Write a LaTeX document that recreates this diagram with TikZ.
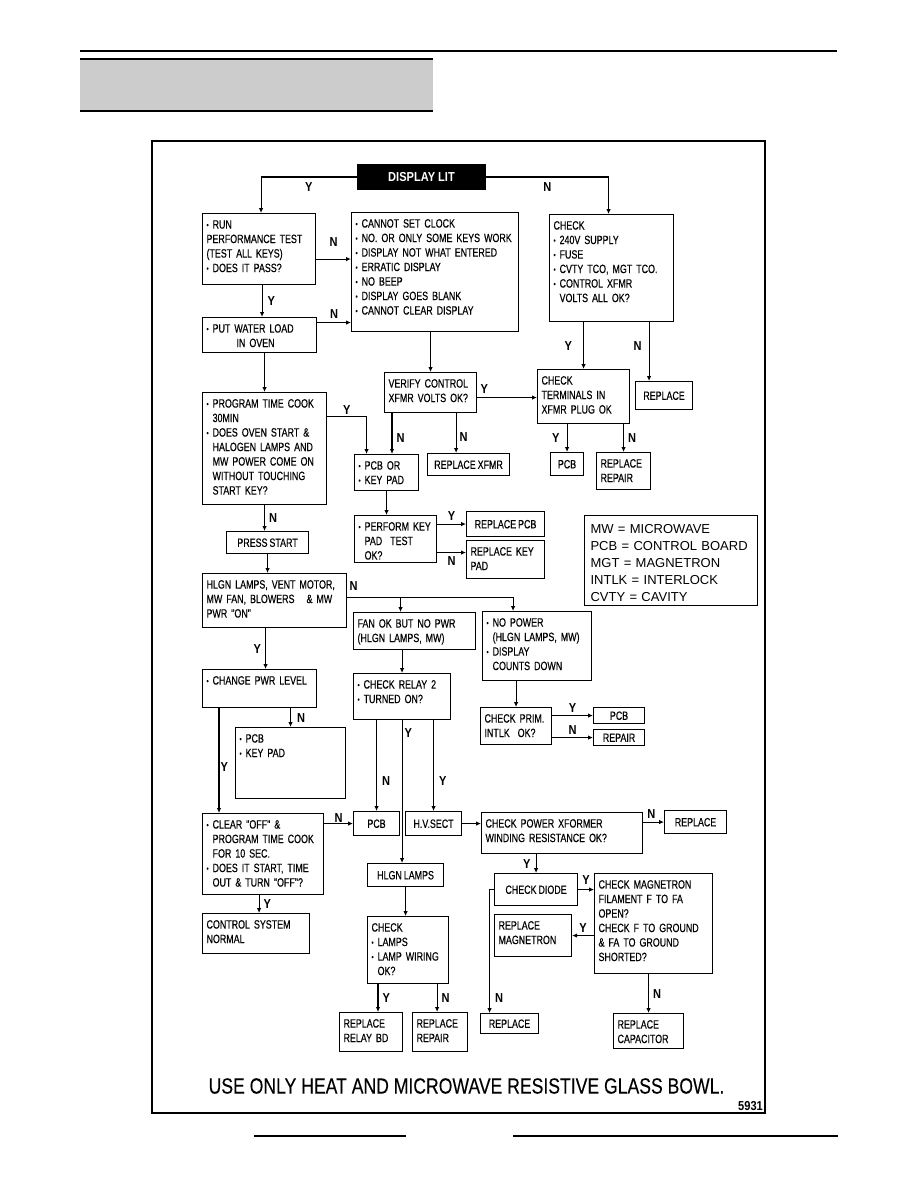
\documentclass[tikz,border=0pt]{standalone}
\usepackage{fontspec}
\usepackage{tikz}
\usetikzlibrary{arrows.meta,calc,positioning}
\newfontfamily\condfam{Liberation Sans}[FakeStretch=0.74, FakeBold=0.4, WordSpace=0.8]
\newfontfamily\labfam{Liberation Sans}[FakeStretch=0.85]
\newfontfamily\notefam{Liberation Sans}[FakeStretch=0.8, FakeBold=0.15]
\newfontfamily\plainfam{Liberation Sans}
\newcommand\boxfont{\condfam\fontsize{12}{14.5}\selectfont}
\newcommand\labfont{\labfam\bfseries\fontsize{13}{14}\selectfont}
\newcommand\litfont{\labfam\bfseries\fontsize{13}{15}\selectfont}
\newcommand\legfont{\plainfam\fontsize{13}{17}\selectfont}
\newcommand\notefont{\notefam\fontsize{22}{26}\selectfont}
\newcommand\bul{\raisebox{0.8pt}{\fontsize{8}{8}\selectfont •}\ }
\newcommand\ind{\hphantom{\bul}}
\definecolor{headgray}{gray}{0.8}

\begin{document}
\begin{tikzpicture}[x=1pt, y=-1pt,
    box/.code 2 args={%
      \pgfmathsetlengthmacro\boxtw{#1pt-8pt}%
      \pgfmathsetlengthmacro\boxtd{#2pt-15pt}%
      \tikzset{draw, line width=1.1pt, anchor=north west, align=left,
        font=\boxfont, inner xsep=4pt, inner ysep=0pt, minimum width=#1pt,
        text width=\boxtw, text height=15pt, text depth=\boxtd}},
    sbox/.style 2 args={draw, line width=1.1pt, anchor=north west, align=center,
      font=\boxfont, inner sep=0pt, minimum width=#1pt, minimum height=#2pt,
      text height=8.6pt, text depth=0pt},
    arr/.style={-{Latex[length=5pt,width=4.5pt]}, line width=1.1pt},
    lab/.style={font=\labfont, inner sep=1pt}]
        \useasboundingbox (0,0) rectangle (918,1188);
        % Page header and footer rules
        \draw[line width=2.5pt] (80,51) -- (837,51);
        \fill[headgray] (80,58) rectangle (433,111);
        \draw[line width=2pt] (80,59) -- (433,59);
        \draw[line width=1.2pt] (80,111) -- (433,111);
        \draw[line width=2.5pt] (254,1136) -- (406,1136);
        \draw[line width=2.5pt] (513,1136) -- (838,1136);
        % Figure frame
        \draw[line width=1.1pt] (152,141) rectangle (765,1113);
        % Start
        \node[fill=black, text=white, font=\litfont, minimum width=129pt, minimum height=26pt, inner sep=0pt] (lit) at (421.5,177) {DISPLAY LIT};
        % Display lit branch
        \node[box={113}{71}] (run) at (202,213) {\bul RUN\\ PERFORMANCE TEST\\ (TEST ALL KEYS)\\ \bul DOES IT PASS?};
        \node[box={167}{119}] (cannot) at (351,212) {\bul CANNOT SET CLOCK\\ \bul NO. OR ONLY SOME KEYS WORK\\ \bul DISPLAY NOT WHAT ENTERED\\ \bul ERRATIC DISPLAY\\ \bul NO BEEP\\ \bul DISPLAY GOES BLANK\\ \bul CANNOT CLEAR DISPLAY};
        \node[box={114}{35}] (put) at (202,317) {\bul PUT WATER LOAD\\ \hspace*{30pt}IN OVEN};
        \node[box={92}{40}] (verify) at (384,372) {VERIFY CONTROL\\ XFMR VOLTS OK?};
        \node[box={124}{112}] (prog) at (202,392) {\bul PROGRAM TIME COOK\\ \ind 30MIN\\ \bul DOES OVEN START \&\\ \ind HALOGEN LAMPS AND\\ \ind MW POWER COME ON\\ \ind WITHOUT TOUCHING\\ \ind START KEY?};
        \node[box={64}{36}] (pcbor) at (354,454) {\bul PCB OR\\ \bul KEY PAD};
        \node[sbox={82}{22}] (repx) at (427,453) {REPLACE XFMR};
        \node[box={82}{47}] (perf) at (354,515) {\bul PERFORM KEY\\ \ind PAD\ \ TEST\\ \ind OK?};
        \node[sbox={78}{25}] (reppcb) at (466,511) {REPLACE PCB};
        \node[box={78}{38}] (repkey) at (466,540) {REPLACE KEY\\ PAD};
        % Display not lit branch
        \node[box={124}{107}] (chk) at (549,214) {CHECK\\ \bul 240V SUPPLY\\ \bul FUSE\\ \bul CVTY TCO, MGT TCO.\\ \bul CONTROL XFMR\\ \ind VOLTS ALL OK?};
        \node[box={92}{54}] (term) at (537,369) {CHECK\\ TERMINALS IN\\ XFMR PLUG OK};
        \node[sbox={57}{28}] (rep1) at (635,381) {REPLACE};
        \node[sbox={33}{23}] (pcb1) at (550,452) {PCB};
        \node[box={54}{37}] (reprep1) at (596,452) {REPLACE\\ REPAIR};
        % Legend
        \node[draw, line width=1.1pt, anchor=north west, align=left, font=\legfont, inner xsep=6pt, inner ysep=0pt, text width=161pt, text height=18pt, text depth=72pt] (legend) at (584,515) {MW = MICROWAVE\\ PCB = CONTROL BOARD\\ MGT = MAGNETRON\\ INTLK = INTERLOCK\\ CVTY = CAVITY};
        % Start key branch
        \node[sbox={82}{22}] (press) at (226,531) {PRESS START};
        \node[box={144}{54}] (hlgn) at (202,573) {HLGN LAMPS, VENT MOTOR,\\ MW FAN, BLOWERS\ \ \ \& MW\\ PWR "ON"};
        \node[box={122}{37}] (fanok) at (353,612) {FAN OK BUT NO PWR\\ (HLGN LAMPS, MW)};
        \node[box={109}{69}] (nopow) at (482,611) {\bul NO POWER\\ \ind (HLGN LAMPS, MW)\\ \bul DISPLAY\\ \ind COUNTS DOWN};
        \node[box={71}{37}] (prim) at (480,707) {CHECK PRIM.\\ INTLK\ \ OK?};
        \node[sbox={51}{16}] (pcb2) at (593,707) {PCB};
        \node[sbox={51}{16}] (repair) at (593,729) {REPAIR};
        \node[box={97}{46}] (relay) at (353,673) {\bul CHECK RELAY 2\\ \bul TURNED ON?};
        \node[box={114}{38}] (chg) at (202,669) {\bul CHANGE PWR LEVEL};
        \node[box={110}{71}] (pkp) at (235,727) {\bul PCB\\ \bul KEY PAD};
        \node[box={121}{81}] (clear) at (202,813) {\bul CLEAR "OFF" \&\\ \ind PROGRAM TIME COOK\\ \ind FOR 10 SEC.\\ \bul DOES IT START, TIME\\ \ind OUT \& TURN "OFF"?};
        \node[box={107}{40}] (ctrl) at (202,913) {CONTROL SYSTEM\\ NORMAL};
        \node[sbox={46}{24}] (pcb3) at (353,811) {PCB};
        \node[sbox={56}{24}] (hvs) at (405,811) {H.V.SECT};
        \node[sbox={76}{23}] (hlamp) at (367,863) {HLGN LAMPS};
        \node[box={81}{67}] (lamps) at (367,916) {CHECK\\ \bul LAMPS\\ \bul LAMP WIRING\\ \ind OK?};
        \node[box={63}{39}] (relbd) at (339,1012) {REPLACE\\ RELAY BD};
        \node[box={55}{39}] (reprep2) at (412,1012) {REPLACE\\ REPAIR};
        % High voltage section
        \node[box={161}{41}] (pwr) at (481,812) {CHECK POWER XFORMER\\ WINDING RESISTANCE OK?};
        \node[sbox={62}{23}] (rep3) at (664,810) {REPLACE};
        \node[sbox={83}{32}] (diode) at (494,873) {CHECK DIODE};
        \node[box={118}{100}] (mag) at (594,873) {CHECK MAGNETRON\\ FILAMENT F TO FA\\ OPEN?\\ CHECK F TO GROUND\\ \& FA TO GROUND\\ SHORTED?};
        \node[box={77}{42}] (repmag) at (494,914) {REPLACE\\ MAGNETRON};
        \node[sbox={58}{20}] (rep4) at (480,1013) {REPLACE};
        \node[box={70}{35}] (repcap) at (613,1013) {REPLACE\\ CAPACITOR};
        % Note and figure number
        \node[font=\notefont, inner sep=0pt] (note) at (466.5,1086) {USE ONLY HEAT AND MICROWAVE RESISTIVE GLASS BOWL.};
        \node[font=\labfont, anchor=east, inner sep=0pt] (fignum) at (763,1106) {5931};
        % Connectors, display lit
        \draw[arr] (lit.west) -| ([xshift=2pt]run.north) node[lab, pos=0.25, below=4pt] (yLit) {Y};
        \draw[arr] (lit.east) -| ([xshift=-3pt]chk.north) node[lab, pos=0.25, below=4pt] (nLit) {N};
        \draw[arr] ([yshift=-10pt]run.east) -- ([yshift=-10pt]run.east -| cannot.west) node[lab, midway, above=11pt] (nRun) {N};
        \draw[arr] ([xshift=3pt]run.south) -- ([xshift=3pt]run.south |- put.north) node[lab, midway, right=4pt] (yRun) {Y};
        \draw[arr] ([yshift=12.5pt]put.east) -- ([yshift=12.5pt]put.east -| cannot.west) node[lab, midway, above=3pt] (nPut) {N};
        \draw[arr] (put.south -| prog.north) -- (prog.north);
        \draw[arr] (cannot.south -| verify.north) -- (verify.north);
        \draw[arr] ([yshift=-5pt]verify.east) -- ([yshift=-5pt]verify.east -| term.west) node[lab, pos=0.12, above=3pt] (yVer) {Y};
        \draw[arr] ([xshift=8pt]verify.south west) -- ([xshift=8pt]verify.south west |- pcbor.north) node[lab, pos=0.6, right=3pt] (nVer1) {N};
        \draw[arr] ([xshift=-21pt]verify.south east) -- ([xshift=-21pt]verify.south east |- repx.north) node[lab, pos=0.6, right=2pt] (nVer2) {N};
        \draw[arr] ([yshift=32pt]prog.east) -| ([xshift=-20pt]pcbor.north) node[lab, pos=0.25, above=1pt] (yProg) {Y};
        \draw[arr] (pcbor.south) -- (pcbor.south |- perf.north);
        \draw[arr] (perf.east |- reppcb.west) -- (reppcb.west) node[lab, midway, above=2pt] (yPerf) {Y};
        \draw[arr] ([yshift=7pt]repkey.west -| perf.east) -- ([yshift=7pt]repkey.west) node[lab, midway, below=2pt] (nPerf) {N};
        % Connectors, display not lit
        \draw[arr] (chk.south -| term.north) -- (term.north) node[lab, midway, left=10pt] (yChk) {Y};
        \draw[arr] ([xshift=-15pt]rep1.north |- chk.south) -- ([xshift=-15pt]rep1.north) node[lab, pos=0.4, left=6pt] (nChk) {N};
        \draw[arr] (term.south -| pcb1.north) -- (pcb1.north) node[lab, midway, left=6pt] (yTerm) {Y};
        \draw[arr] (term.south -| reprep1.north) -- (reprep1.north) node[lab, midway, right=3pt] (nTerm) {N};
        % Connectors, start key
        \draw[arr] (prog.south) -- (prog.south |- press.north) node[lab, midway, right=3pt] (nProg) {N};
        \draw[arr] (press.south) -- (press.south |- hlgn.north);
        \coordinate (hsplit) at ([yshift=3pt]hlgn.east);
        \coordinate (fanin) at ([xshift=-14pt]fanok.north);
        \draw[arr] (hsplit) -| ([xshift=-24pt]nopow.north) node[lab, pos=0, above right=6pt and 1pt] (nHlgn) {N};
        \draw[arr] (hsplit -| fanin) -- (fanin);
        \draw[arr] (nopow.south -| prim.north) -- (prim.north);
        \draw[arr] (prim.east |- pcb2.west) -- (pcb2.west) node[lab, midway, above=2pt] (yPrim) {Y};
        \draw[arr] (prim.east |- repair.west) -- (repair.west) node[lab, midway, above=2pt] (nPrim) {N};
        \draw[arr] (fanok.south -| relay.north) -- (relay.north);
        \draw[arr] (relay.south -| pcb3.north) -- (pcb3.north) node[lab, pos=0.67, right=4pt] (nRel) {N};
        \draw[arr] (relay.south) -- (relay.south |- hlamp.north) node[lab, pos=0.09, right=1pt] (yRel1) {Y};
        \draw[arr] (relay.south -| hvs.north) -- (hvs.north) node[lab, pos=0.67, right=4pt] (yRel2) {Y};
        \draw[arr] (hlamp.south) -- (hlamp.south |- lamps.north);
        \draw[arr] ([xshift=11pt]lamps.south west) -- ([xshift=11pt]lamps.south west |- relbd.north) node[lab, midway, right=3pt] (yLamp) {Y};
        \draw[arr] ([xshift=-12pt]lamps.south east) -- ([xshift=-12pt]lamps.south east |- reprep2.north) node[lab, midway, right=3pt] (nLamp) {N};
        \draw[arr] ([xshift=-9pt]hlgn.south) -- ([xshift=-9pt]hlgn.south |- chg.north) node[lab, midway, left=3pt] (yHlgn) {Y};
        \draw[arr] (chg.south -| pkp.north) -- (pkp.north) node[lab, midway, right=5pt] (nChg) {N};
        \draw[arr] ([xshift=17pt]chg.south west) -- ([xshift=17pt]chg.south west |- clear.north) node[lab, pos=0.56, right=0pt] (yChg) {Y};
        \draw[arr] (clear.east |- pcb3.west) -- (pcb3.west) node[lab, midway, above=0pt] (nClr) {N};
        \draw[arr] ([xshift=3pt]clear.south -| ctrl.north) -- ([xshift=3pt]ctrl.north) node[lab, midway, right=3pt] (yClr) {Y};
        % Connectors, high voltage section
        \draw[arr] (hvs.east) -- (hvs.east -| pwr.west);
        \draw[arr] (pwr.east |- rep3.west) -- (rep3.west) node[lab, pos=0.4, above=2pt] (nPwr) {N};
        \draw[arr] (pwr.south -| diode.north) -- (diode.north) node[lab, midway, left=4pt] (yPwr) {Y};
        \draw[arr] (diode.east) -- (diode.east -| mag.west) node[lab, midway, above=4pt] (yDio) {Y};
        \draw[arr] (mag.west |- repmag.east) -- (repmag.east) node[lab, midway, above=2pt] (yMag) {Y};
        \draw[arr] (diode.west) -| ([xshift=-20pt]rep4.north) node[lab, pos=0.94, right=4pt] (nDio) {N};
        \draw[arr] (mag.south -| repcap.north) -- (repcap.north) node[lab, midway, right=3pt] (nMag) {N};
\end{tikzpicture}
\end{document}
